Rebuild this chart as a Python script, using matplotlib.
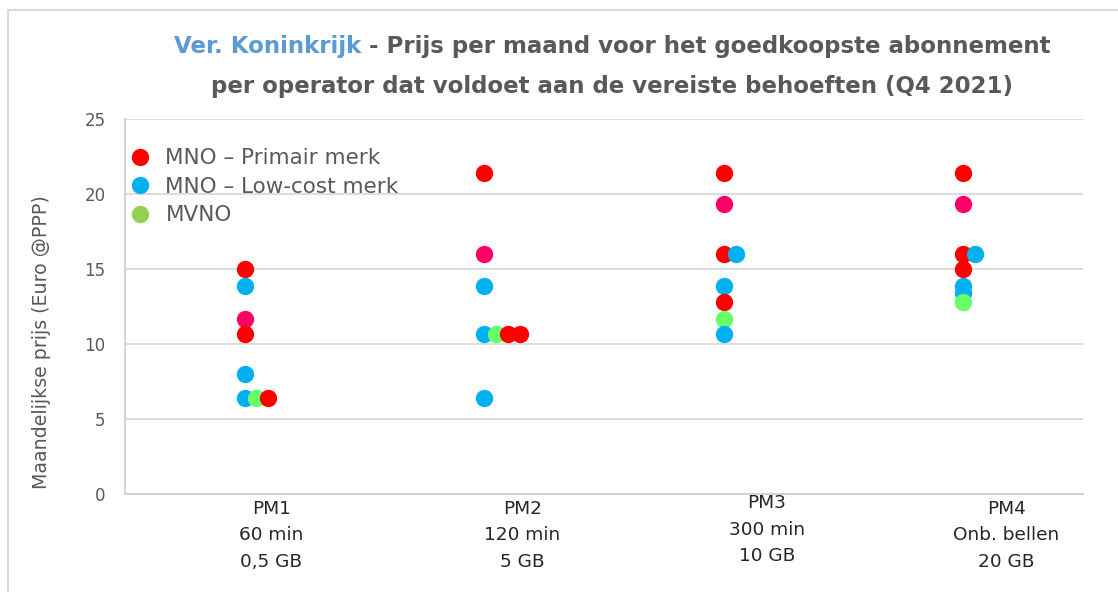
import matplotlib
matplotlib.use('Agg')
import matplotlib.pyplot as plt
from matplotlib.lines import Line2D
from matplotlib import font_manager

# data: prijs per maand (Euro @PPP) per pakket, in tekenvolgorde
categories = ['PM1\n60 min\n0,5 GB', 'PM2\n120 min\n5 GB',
              'PM3\n300 min\n10 GB', 'PM4\nOnb. bellen\n20 GB']

pm1_series = ['low', 'mvno', 'prim', 'prim', 'low', 'accent', 'prim', 'low']
pm1_prices = [6.4, 6.4, 6.4, 15.0, 13.9, 11.7, 10.7, 8.0]

pm2_series = ['low', 'mvno', 'prim', 'prim', 'prim', 'accent', 'low', 'low']
pm2_prices = [10.7, 10.7, 10.7, 10.7, 21.4, 16.0, 13.9, 6.4]

pm3_series = ['prim', 'low', 'prim', 'accent', 'low', 'prim', 'mvno', 'low']
pm3_prices = [16.0, 16.0, 21.4, 19.3, 13.9, 12.8, 11.7, 10.7]

pm4_series = ['prim', 'low', 'prim', 'accent', 'prim', 'low', 'low', 'mvno']
pm4_prices = [16.0, 16.0, 21.4, 19.3, 15.0, 13.9, 13.4, 12.8]

series_names = {'prim': 'MNO – Primair merk', 'low': 'MNO – Low-cost merk',
                'mvno': 'MVNO'}
point_colors = {'prim': '#FF0000', 'low': '#00B0F0', 'mvno': '#66FF66',
                'accent': '#FF0066'}
legend_colors = {'prim': '#FF0000', 'low': '#00B0F0', 'mvno': '#92D050'}

GREY = '#595959'
available = {f.name for f in font_manager.fontManager.ttflist}
narrow = 'Liberation Sans Narrow' if 'Liberation Sans Narrow' in available else 'DejaVu Sans'

fig = plt.figure(figsize=(11.18, 5.92), dpi=100)
ax = fig.add_axes([0.1118, 0.1655, 0.857, 0.6335])

step = 0.049  # sideways shift for equal prices in one category
groups = [(pm1_series, pm1_prices), (pm2_series, pm2_prices),
          (pm3_series, pm3_prices), (pm4_series, pm4_prices)]
for i, (ser, prices) in enumerate(groups):
    seen = {}
    for s, p in zip(ser, prices):
        k = seen.get(p, 0)
        seen[p] = k + 1
        ax.plot(i + 1 + k * step, p, 'o', color=point_colors[s],
                markersize=12.5, markeredgewidth=0, zorder=3)

ax.set_xlim(0.5, 4.5)
ax.set_ylim(0, 25)
ax.set_yticks(range(0, 26, 5))
ax.set_xticks([])
ax.yaxis.grid(True, color='#D9D9D9', lw=1.3)
ax.set_axisbelow(True)
for side in ['top', 'right']:
    ax.spines[side].set_visible(False)
for side in ['left', 'bottom']:
    ax.spines[side].set_color('#D0D0D0')
    ax.spines[side].set_linewidth(1.3)
ax.tick_params(axis='y', length=0, pad=14, labelsize=12, labelcolor=GREY)
ax.set_ylabel('Maandelijkse prijs (Euro @PPP)', fontsize=13.7, color=GREY)
ax.yaxis.set_label_coords(-0.077, 0.405)

# category labels sit a bit to the right of the points
label_shift = [0.11, 0.16, 0.18, 0.18]
label_y = [-0.015, -0.015, 0.0, -0.015]
for i, lab in enumerate(categories):
    ax.text(i + 1 + label_shift[i], label_y[i], lab, transform=ax.get_xaxis_transform(),
            ha='center', va='top', fontsize=13.3, family=narrow,
            color='#262626', linespacing=1.62)

handles = [Line2D([], [], ls='none', marker='o', markersize=12.5,
                  markeredgewidth=0, color=legend_colors[k]) for k in series_names]
ax.legend(handles, list(series_names.values()), loc='upper left',
          bbox_to_anchor=(0.004, 0.922), frameon=False, fontsize=15.5,
          labelcolor=GREY, handlelength=1.0, handletextpad=0.7,
          labelspacing=0.4, borderpad=0, borderaxespad=0)

# title: first words in blue, rest in grey, whole line centred
tx, ty1, ty2 = 612 / 1118, 1 - 47 / 592, 1 - 86 / 592
tkw = dict(fontsize=17.5, fontweight='bold', family=narrow, va='center')
t_blue = fig.text(tx, ty1, 'Ver. Koninkrijk', color='#5B9BD5', ha='left', **tkw)
t_rest = fig.text(tx, ty1, ' - Prijs per maand voor het goedkoopste abonnement',
                  color=GREY, ha='left', **tkw)
t_two = fig.text(tx, ty2, 'per operator dat voldoet aan de vereiste behoeften (Q4 2021)',
                 color=GREY, ha='center', **tkw)
fig.canvas.draw()
r = fig.canvas.get_renderer()
w = t_blue.get_window_extent(r).width + t_rest.get_window_extent(r).width
size = 17.5 * 875 / w
for t in (t_blue, t_rest, t_two):
    t.set_fontsize(size)
fig.canvas.draw()
wb = t_blue.get_window_extent(r).width / fig.bbox.width
wr = t_rest.get_window_extent(r).width / fig.bbox.width
x0 = tx - (wb + wr) / 2
t_blue.set_x(x0)
t_rest.set_x(x0 + wb)

# outer frame
fig.add_artist(Line2D([8 / 1118, 8 / 1118], [0, 1 - 10 / 592], color='#D9D9D9',
                      lw=1.5, transform=fig.transFigure))
fig.add_artist(Line2D([8 / 1118, 1], [1 - 10 / 592, 1 - 10 / 592], color='#D9D9D9',
                      lw=1.5, transform=fig.transFigure))

fig.savefig('out.png', dpi=100)
